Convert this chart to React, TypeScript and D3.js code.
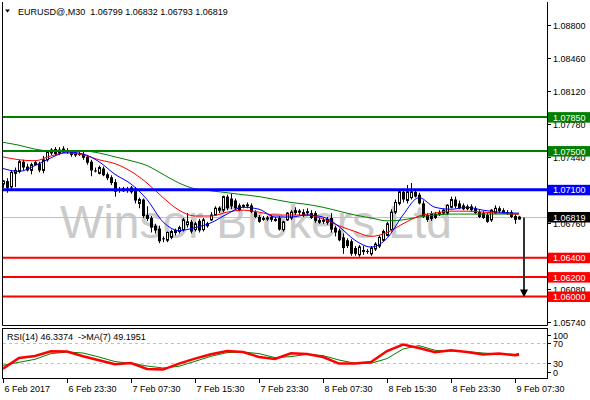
import * as d3 from "d3";

// EURUSD M30 candles, 6 Feb 15:30 .. 9 Feb 08:00
const symbol = "EURUSD@,M30";

const open = [
  1.0716, 1.0719, 1.0713, 1.0727, 1.0729, 1.0739, 1.0734, 1.073, 1.0736, 1.0737,
  1.073, 1.0741, 1.0748, 1.0752, 1.0748, 1.0751, 1.0751, 1.0749, 1.0746, 1.0747,
  1.0747, 1.0744, 1.0739, 1.073, 1.0727, 1.0732, 1.0726, 1.0723, 1.0718, 1.071,
  1.0709, 1.0711, 1.0708, 1.0711, 1.0696, 1.07, 1.0684, 1.0681, 1.0673, 1.067,
  1.066, 1.0658, 1.0661, 1.0666, 1.0667, 1.0669, 1.0674, 1.0677, 1.0669, 1.0678,
  1.0669, 1.0673, 1.0679, 1.0684, 1.0689, 1.0689, 1.0703, 1.0701, 1.0699, 1.0694,
  1.0693, 1.0695, 1.0694, 1.0687, 1.0682, 1.0681, 1.068, 1.0682, 1.068, 1.0681,
  1.0669, 1.0679, 1.0681, 1.0689, 1.0687, 1.0687, 1.0688, 1.0686, 1.0686, 1.0679,
  1.0679, 1.068, 1.0681, 1.0671, 1.0668, 1.0661, 1.0658, 1.0657, 1.065, 1.0643,
  1.0648, 1.0647, 1.0644, 1.0649, 1.0652, 1.0658, 1.0663, 1.0669, 1.0687, 1.0696,
  1.0708, 1.0699, 1.0702, 1.0708, 1.0705, 1.0696, 1.0684, 1.0685, 1.0685, 1.0687,
  1.0686, 1.0686, 1.0692, 1.07, 1.0696, 1.0694, 1.0693, 1.0693, 1.0691, 1.0687,
  1.0686, 1.0684, 1.0679, 1.0686, 1.0691, 1.0689, 1.0687, 1.0687, 1.0683, 1.06799,
];
const high = [
  1.072, 1.0722, 1.073, 1.0733, 1.0741, 1.0741, 1.0737, 1.0738, 1.074, 1.0739,
  1.0745, 1.0751, 1.0753, 1.0754, 1.0754, 1.0755, 1.0753, 1.0751, 1.0749, 1.075,
  1.0749, 1.0746, 1.0741, 1.0733, 1.0735, 1.0734, 1.0728, 1.0725, 1.0721, 1.0713,
  1.0713, 1.0713, 1.0714, 1.0713, 1.0702, 1.0701, 1.0693, 1.0683, 1.0675, 1.0673,
  1.0662, 1.0667, 1.0669, 1.067, 1.0673, 1.0681, 1.0686, 1.0679, 1.0677, 1.068,
  1.0681, 1.0677, 1.0687, 1.0693, 1.0693, 1.0704, 1.0705, 1.0706, 1.0701, 1.0696,
  1.0695, 1.0697, 1.0696, 1.0689, 1.0684, 1.0683, 1.0683, 1.0684, 1.0682, 1.0683,
  1.0678, 1.0687, 1.0689, 1.0692, 1.069, 1.069, 1.0691, 1.0689, 1.0688, 1.0681,
  1.0681, 1.0682, 1.0686, 1.0673, 1.067, 1.0665, 1.066, 1.0659, 1.0652, 1.0653,
  1.0652, 1.0649, 1.0652, 1.0656, 1.0663, 1.0669, 1.0677, 1.069, 1.07, 1.071,
  1.071, 1.0715, 1.0717, 1.071, 1.0707, 1.0699, 1.0686, 1.0688, 1.0687, 1.0689,
  1.069, 1.0695, 1.0703, 1.0703, 1.0699, 1.0696, 1.0695, 1.0695, 1.0693, 1.0689,
  1.0688, 1.0686, 1.069, 1.0694, 1.0693, 1.0691, 1.0689, 1.0689, 1.0685, 1.06832,
];
const low = [
  1.0712, 1.0707, 1.0711, 1.0713, 1.0727, 1.073, 1.0729, 1.0726, 1.0735, 1.0728,
  1.0727, 1.0739, 1.0746, 1.0745, 1.0746, 1.0749, 1.0747, 1.0744, 1.0744, 1.0745,
  1.0741, 1.0736, 1.0724, 1.0728, 1.0726, 1.0724, 1.072, 1.0715, 1.0703, 1.0707,
  1.0708, 1.0707, 1.0706, 1.0696, 1.0691, 1.0681, 1.0678, 1.0666, 1.0665, 1.0655,
  1.0656, 1.0656, 1.0659, 1.0663, 1.0665, 1.0667, 1.0671, 1.0665, 1.0667, 1.0666,
  1.0667, 1.0671, 1.0678, 1.0683, 1.0686, 1.0687, 1.0689, 1.069, 1.0689, 1.0688,
  1.0691, 1.0691, 1.0686, 1.0681, 1.0676, 1.0678, 1.0678, 1.0677, 1.0677, 1.0668,
  1.0667, 1.0678, 1.0679, 1.0684, 1.0684, 1.0682, 1.0684, 1.068, 1.0676, 1.0675,
  1.0675, 1.0674, 1.0666, 1.0662, 1.0657, 1.0644, 1.065, 1.0642, 1.0642, 1.0641,
  1.0643, 1.0644, 1.0642, 1.0647, 1.065, 1.0657, 1.0662, 1.0667, 1.0685, 1.0694,
  1.0697, 1.0696, 1.07, 1.0702, 1.0695, 1.0681, 1.0677, 1.0678, 1.068, 1.0683,
  1.0684, 1.0684, 1.0691, 1.0691, 1.069, 1.0689, 1.0689, 1.0688, 1.0685, 1.0681,
  1.068, 1.0676, 1.0677, 1.0685, 1.0686, 1.0685, 1.0684, 1.0681, 1.0675, 1.06793,
];
const close = [
  1.0719, 1.0712, 1.0728, 1.073, 1.0739, 1.0733, 1.073, 1.0736, 1.0738, 1.073,
  1.0741, 1.0749, 1.0751, 1.0747, 1.0751, 1.0752, 1.0749, 1.0746, 1.0748, 1.0746,
  1.0743, 1.0738, 1.073, 1.0729, 1.0733, 1.0725, 1.0722, 1.0717, 1.0708, 1.0709,
  1.0711, 1.0709, 1.0712, 1.0699, 1.07, 1.0683, 1.068, 1.0671, 1.0668, 1.0657,
  1.0659, 1.0666, 1.0667, 1.0668, 1.0671, 1.0679, 1.0677, 1.0667, 1.0675, 1.0668,
  1.0679, 1.0675, 1.0684, 1.0691, 1.0691, 1.0703, 1.0691, 1.0693, 1.0691, 1.0689,
  1.0694, 1.0693, 1.0687, 1.0682, 1.0677, 1.0679, 1.0681, 1.0679, 1.0678, 1.0669,
  1.0677, 1.0686, 1.0687, 1.0686, 1.0688, 1.0684, 1.0686, 1.0681, 1.0678, 1.0676,
  1.0677, 1.0676, 1.0669, 1.0666, 1.0658, 1.065, 1.0652, 1.0644, 1.0644, 1.0651,
  1.0646, 1.0646, 1.065, 1.0654, 1.0661, 1.0667, 1.0675, 1.0687, 1.0697, 1.0708,
  1.07, 1.0708, 1.0708, 1.0703, 1.0696, 1.0682, 1.0679, 1.068, 1.0681, 1.0684,
  1.0689, 1.0694, 1.07, 1.0693, 1.0691, 1.069, 1.069, 1.0689, 1.0686, 1.0682,
  1.0681, 1.0677, 1.0689, 1.0691, 1.0688, 1.0686, 1.0686, 1.0682, 1.0679, 1.06819,
];

// moving averages and RSI read every 4th bar (plus the last bar)
const sampleBars = [...d3.range(0, 129, 4), 129];
const maFast = [
  1.0732, 1.0729, 1.0735, 1.0743, 1.0749, 1.0747, 1.0739, 1.0726, 1.0716, 1.07,
  1.0677, 1.0668, 1.0671, 1.0676, 1.0685, 1.0692, 1.069, 1.0682, 1.0682, 1.0684,
  1.0682, 1.0672, 1.0658, 1.0651, 1.066, 1.0684, 1.0702, 1.0692, 1.069, 1.0692,
  1.0689, 1.0687, 1.0686, 1.0686,
];
const maMid = [
  1.0744, 1.0741, 1.074, 1.0745, 1.0748, 1.0746, 1.0741, 1.0737, 1.0729, 1.0717,
  1.0702, 1.0689, 1.0683, 1.0683, 1.0687, 1.0689, 1.0687, 1.0684, 1.0684, 1.0684,
  1.068, 1.0673, 1.0667, 1.0662, 1.0666, 1.0675, 1.0683, 1.0686, 1.0688, 1.0688,
  1.0687, 1.0686, 1.0685, 1.0685,
];
const maSlow = [
  1.0759, 1.0756, 1.0752, 1.075, 1.075, 1.075, 1.0748, 1.0744, 1.074, 1.0735,
  1.0726, 1.0717, 1.0711, 1.0709, 1.0707, 1.0705, 1.0703, 1.07, 1.0697, 1.0695,
  1.0692, 1.0688, 1.0684, 1.0681, 1.0678, 1.0679, 1.0682, 1.0684, 1.0685, 1.0685,
  1.0685, 1.0685, 1.0685, 1.0685,
];
const rsi = [
  18.8, 40, 44, 53.4, 52.8, 43.4, 35.4, 27.4, 30, 18, 16.8, 28.8, 38.8, 47.4, 54,
  52, 42, 38, 49.4, 48, 42, 28.8, 28.8, 32, 54, 66.8, 60, 51.4, 55.4, 52, 46.8,
  48.8, 45.4, 46.3,
];
const rsiMa = [
  25.4, 31.4, 37.4, 48.8, 52, 50, 42, 32.8, 29.4, 24, 20, 23.4, 33.4, 43.4, 50.8,
  52, 48.8, 40.8, 42.8, 47.4, 44.8, 36, 29.4, 29.4, 38.8, 58, 64.8, 55.4, 54, 52.8,
  50, 48, 47.4, 49.2,
];
const rsiNow = "46.3374";
const rsiMaNow = "49.1951";

const timeLabels = [
  "6 Feb 2017", "6 Feb 23:30", "7 Feb 07:30", "7 Feb 15:30", "7 Feb 23:30",
  "8 Feb 07:30", "8 Feb 15:30", "8 Feb 23:30", "9 Feb 07:30",
];
const timeLabelBars = [0, 16, 32, 48, 64, 80, 96, 112, 128];
const priceTicks = [1.088, 1.0846, 1.0812, 1.0778, 1.0744, 1.071, 1.0676, 1.0642, 1.0608, 1.0574];
const rsiTicks = [100, 70, 30, 0];
const rsiLevels = [70, 30];
const levels = [1.0785, 1.075, 1.071, 1.064, 1.062, 1.06];
const target = 1.06;

const levelColors = ["#008000", "#008000", "#0000ff", "#ff0000", "#ff0000", "#ff0000"];
const levelWidths = [2, 2, 3, 2, 2, 2];
const font = "'Liberation Sans', Arial, sans-serif";

export default function App() {
  const n = close.length;
  const x = d3.scaleLinear().domain([0, n - 1]).range([3, 519]);
  const y = d3.scaleLinear().domain([1.0574, 1.088]).range([321.7, 25]);
  const yr = d3.scaleLinear().domain([0, 100]).range([378, 328]);

  const maLine = d3
    .line<number>()
    .x((_, k) => x(sampleBars[k]))
    .y((v) => y(v))
    .curve(d3.curveMonotoneX);
  const rsiLine = d3
    .line<number>()
    .x((_, k) => x(sampleBars[k]))
    .y((v) => yr(v));

  const bid = close[n - 1];
  const bidY = Math.round(y(bid)) + 0.5;
  const arrowX = Math.round(x(n - 1)) + 5;
  const targetY = y(target);

  // tick labels hidden completely behind a level box are not drawn
  const visibleTicks = priceTicks.filter(
    (p) => !levels.some((l) => Math.abs(y(l) - y(p)) < 2.5)
  );

  return (
    <svg
      width={590}
      height={400}
      style={{ position: "absolute", left: 0, top: 0, background: "#fff" }}
      fontFamily={font}
    >
      <rect width={590} height={400} fill="#fff" />

      {/* watermark */}
      <text
        x={60}
        y={238}
        fontSize={46}
        fill="#cbcbcb"
        textLength={392}
        lengthAdjust="spacingAndGlyphs"
      >
        Winsor Brokers Ltd
      </text>

      {/* bid line */}
      <line x1={2} x2={547} y1={bidY} y2={bidY} stroke="#c0c0c0" />

      {/* candles */}
      {close.map((c, i) => {
        const o = open[i];
        const cx = Math.round(x(i));
        const top = y(Math.max(o, c));
        const bot = y(Math.min(o, c));
        const h = Math.max(bot - top, 1);
        return (
          <g key={i}>
            <line x1={cx + 0.5} x2={cx + 0.5} y1={y(high[i])} y2={y(low[i])} stroke="#000" />
            {c >= o ? (
              <rect x={cx - 0.5} y={top} width={2} height={h} fill="#fff" stroke="#000" />
            ) : (
              <rect x={cx - 1} y={top} width={3} height={h} fill="#000" />
            )}
          </g>
        );
      })}

      {/* moving averages */}
      <path d={maLine(maSlow) ?? ""} fill="none" stroke="#008000" />
      <path d={maLine(maMid) ?? ""} fill="none" stroke="#ff0000" />
      <path d={maLine(maFast) ?? ""} fill="none" stroke="#0000ff" />

      {/* horizontal levels */}
      {levels.map((p, k) => (
        <line
          key={p}
          x1={2}
          x2={547}
          y1={y(p)}
          y2={y(p)}
          stroke={levelColors[k]}
          strokeWidth={levelWidths[k]}
        />
      ))}

      {/* target arrow */}
      <line x1={arrowX} x2={arrowX} y1={bidY} y2={targetY - 6} stroke="#333" strokeWidth={2} />
      <polygon
        points={`${arrowX - 4},${targetY - 7} ${arrowX + 4},${targetY - 7} ${arrowX},${targetY + 0.5}`}
        fill="#000"
      />

      {/* main panel frame: left, bottom and right (axis) edges */}
      <path d="M2.5,2 V325.5 H547.5 V2" fill="none" stroke="#000" />

      {/* title */}
      <polygon points="5,9.5 10,9.5 7.5,12.5" fill="#000" />
      <text x={18} y={15} fontSize={9} fill="#000" style={{ whiteSpace: "pre" }}>
        {`${symbol}  ${open[n - 1].toFixed(5)} ${high[n - 1].toFixed(5)} ${low[n - 1].toFixed(5)} ${bid.toFixed(5)}`}
      </text>

      {/* price axis */}
      {priceTicks.map((p) => (
        <line
          key={"t" + p}
          x1={547}
          x2={551}
          y1={Math.round(y(p)) + 0.5}
          y2={Math.round(y(p)) + 0.5}
          stroke="#000"
        />
      ))}
      {visibleTicks.map((p) => (
        <text key={p} x={553} y={y(p) + 4} fontSize={9} fill="#000">
          {p.toFixed(5)}
        </text>
      ))}
      {levels.map((p, k) => (
        <g key={"l" + p}>
          <rect x={548} y={y(p) - 5} width={42} height={10.5} fill={levelColors[k]} />
          <text x={553} y={y(p) + 3.5} fontSize={9} fill="#fff">
            {p.toFixed(5)}
          </text>
        </g>
      ))}
      <rect x={548} y={bidY - 5.5} width={42} height={10.5} fill="#000" />
      <text x={553} y={bidY + 3} fontSize={9} fill="#fff">
        {bid.toFixed(5)}
      </text>

      {/* RSI panel */}
      {rsiLevels.map((v) => (
        <line
          key={v}
          x1={3}
          x2={547}
          y1={Math.round(yr(v)) + 0.5}
          y2={Math.round(yr(v)) + 0.5}
          stroke="#c0c0c0"
          strokeDasharray="3,3"
        />
      ))}
      <path d={rsiLine(rsiMa) ?? ""} fill="none" stroke="#008000" />
      <path d={rsiLine(rsi) ?? ""} fill="none" stroke="#ff0000" strokeWidth={2.5} />
      <rect x={2.5} y={328.5} width={545} height={50} fill="none" stroke="#000" />
      <text x={7} y={339.5} fontSize={9} fill="#000" style={{ whiteSpace: "pre" }}>
        {`RSI(14) ${rsiNow}  ->MA(7) ${rsiMaNow}`}
      </text>
      {rsiTicks.map((v) => {
        const ty = Math.min(Math.max(yr(v), 335), 372);
        return (
          <g key={v}>
            <line x1={547} x2={551} y1={Math.round(ty) + 0.5} y2={Math.round(ty) + 0.5} stroke="#000" />
            <text x={553} y={ty + 3.5} fontSize={9} fill="#000">
              {v}
            </text>
          </g>
        );
      })}

      {/* time axis */}
      {timeLabels.map((t, k) => {
        const tx = Math.round(x(timeLabelBars[k])) + 0.5;
        return (
          <g key={t}>
            <line x1={tx} x2={tx} y1={379} y2={383} stroke="#000" />
            <text x={tx + 1} y={392} fontSize={9} fill="#000">
              {t}
            </text>
          </g>
        );
      })}
    </svg>
  );
}
